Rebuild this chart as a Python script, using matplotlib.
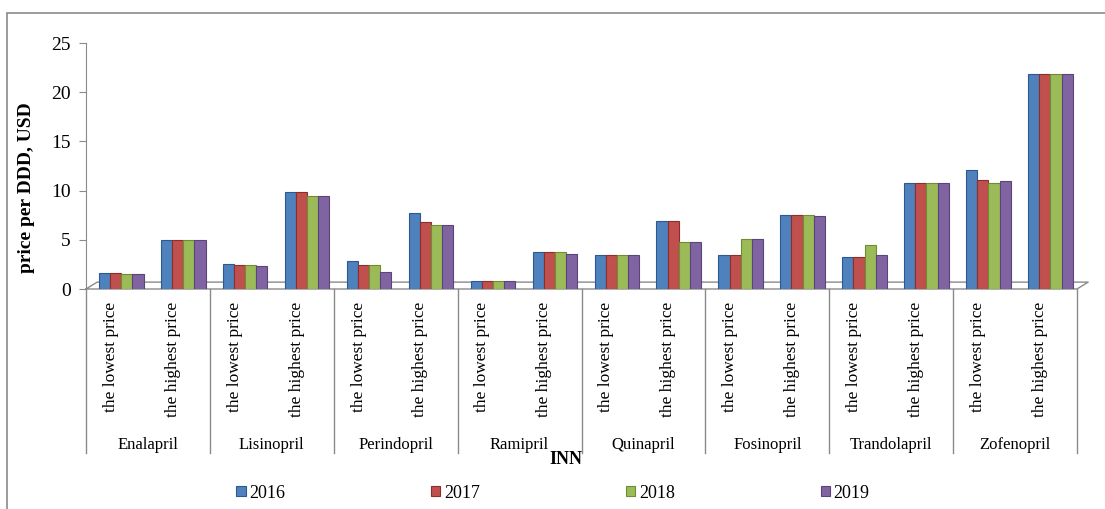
import numpy as np
import matplotlib
matplotlib.use("Agg")
import matplotlib.pyplot as plt
from matplotlib.patches import Rectangle

plt.rcParams["font.family"] = ["Liberation Serif", "DejaVu Serif"]

drugs = ["Enalapril", "Lisinopril", "Perindopril", "Ramipril",
         "Quinapril", "Fosinopril", "Trandolapril", "Zofenopril"]
kinds = ["the lowest price", "the highest price"]
years = ["2016", "2017", "2018", "2019"]

# price per DDD, USD: low / high for each drug, in order of drugs
y2016 = [1.6, 5.0, 2.5, 9.9, 2.85, 7.7, 0.85, 3.8, 3.45, 6.9, 3.45, 7.5, 3.3, 10.8, 12.1, 21.9]
y2017 = [1.6, 5.0, 2.4, 9.9, 2.4, 6.8, 0.85, 3.8, 3.45, 6.9, 3.45, 7.5, 3.3, 10.8, 11.1, 21.9]
y2018 = [1.55, 5.0, 2.4, 9.5, 2.4, 6.5, 0.8, 3.8, 3.45, 4.8, 5.1, 7.5, 4.5, 10.8, 10.8, 21.9]
y2019 = [1.55, 5.0, 2.3, 9.5, 1.75, 6.5, 0.8, 3.6, 3.45, 4.8, 5.1, 7.4, 3.5, 10.8, 11.0, 21.9]

colors = ["#4F81BD", "#C0504D", "#9BBB59", "#8064A2"]
edges = ["#2C5A8E", "#8C2E2B", "#6E8C34", "#5A4479"]

W, H = 1105, 509
fig = plt.figure(figsize=(W / 100, H / 100), dpi=100)

# outer frame (clipped at right and bottom like the source)
fig.patches.append(Rectangle((7 / W, -0.1), 1.2, (509 - 13) / H + 0.1,
                             transform=fig.transFigure, fill=False,
                             edgecolor="#8a8a8a", linewidth=1.2))

ax = fig.add_axes([86 / W, (509 - 289) / H, (1077 - 86) / W, 246 / H])

x = np.arange(len(drugs) * 2)
bw = 0.18
for i, (vals, c, e) in enumerate(zip([y2016, y2017, y2018, y2019], colors, edges)):
    ax.bar(x + (i - 1.5) * bw + 0.07, vals, bw, color=c, edgecolor=e,
           linewidth=0.8, label=years[i], zorder=3)

ax.set_xlim(-0.5, 15.5)
ax.set_ylim(0, 25)
ax.set_yticks([0, 5, 10, 15, 20, 25])
ax.tick_params(axis="y", labelsize=14, length=5, color="#8a8a8a", pad=6)
ax.set_xticks([])
for s in ["top", "right", "bottom"]:
    ax.spines[s].set_visible(False)
ax.spines["left"].set_color("#8a8a8a")

# pseudo 3D floor
ax.plot([-0.5, -0.32, 15.68, 15.5, -0.5], [0, 0.7, 0.7, 0, 0],
        color="#8a8a8a", lw=1.0, clip_on=False, zorder=2)

tr = ax.get_xaxis_transform()
px = 1 / 246
for k in range(len(drugs) + 1):
    ax.plot([k * 2 - 0.5] * 2, [0, -(453 - 289) * px], color="#8a8a8a",
            lw=1.0, transform=tr, clip_on=False)
for j in range(len(x)):
    ax.text(x[j] - 0.1, -(302 - 289) * px, kinds[j % 2], rotation=90,
            ha="center", va="top", fontsize=12.5, transform=tr)
for k, d in enumerate(drugs):
    ax.text(k * 2 + 0.5, -(445 - 289) * px, d, ha="center", va="center",
            fontsize=12, transform=tr)

fig.text(27 / W, 1 - 188 / H, "price per DDD, USD", rotation=90, ha="center",
         va="center", fontsize=14, fontweight="bold")
fig.text(566 / W, 1 - 460 / H, "INN", ha="center", va="center",
         fontsize=13, fontweight="bold")

fig.legend(loc="center", bbox_to_anchor=(553 / W, 1 - 493 / H), ncol=4,
           frameon=False, fontsize=13, handlelength=0.5, handleheight=0.5,
           handletextpad=0.2, columnspacing=8.1)

fig.savefig("out.png", dpi=100)
